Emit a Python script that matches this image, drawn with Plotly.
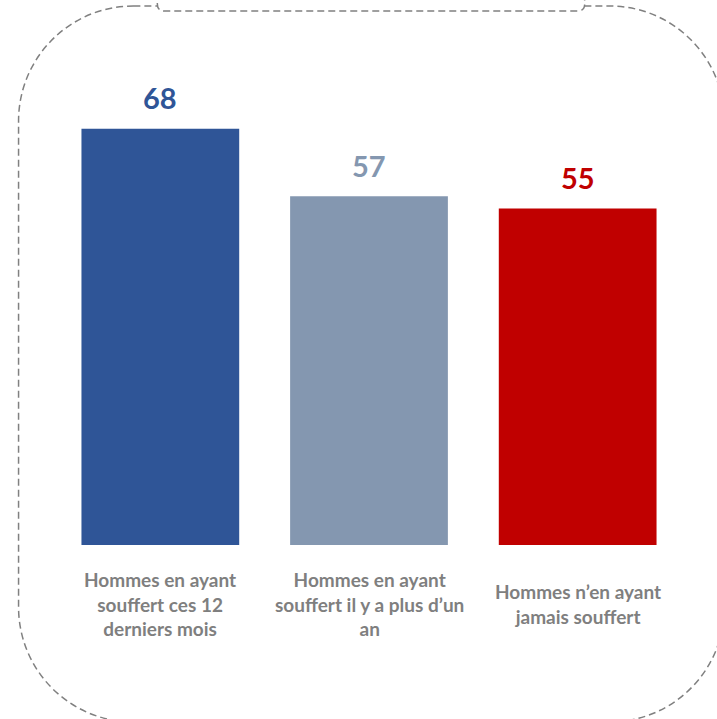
import plotly.graph_objects as go

# ---- data ----
categories = ["12 derniers mois", "plus d'un an", "jamais"]
category_labels = [
    "Hommes en ayant<br>souffert ces 12<br>derniers mois",
    "Hommes en ayant<br>souffert il y a plus d\u2019un<br>an",
    "Hommes n\u2019en ayant<br>jamais souffert",
]
values = [68, 57, 55]
bar_colors = ["#2F5597", "#8497B0", "#C00000"]

# ---- geometry (pixels) ----
W, H = 717, 719
L, R, T, B = 55.5, 34.5, 86, 174
PW, PH = W - L - R, H - T - B


def P(px, py):
    return f"{(px - L) / PW:.5f},{(H - B - py) / PH:.5f}"


def rounded_rect(x0, y0, x1, y1, r):
    k = 0.5523 * r
    return (
        f"M {P(x0 + r, y0)} L {P(x1 - r, y0)} "
        f"C {P(x1 - r + k, y0)} {P(x1, y0 + r - k)} {P(x1, y0 + r)} "
        f"L {P(x1, y1 - r)} "
        f"C {P(x1, y1 - r + k)} {P(x1 - r + k, y1)} {P(x1 - r, y1)} "
        f"L {P(x0 + r, y1)} "
        f"C {P(x0 + r - k, y1)} {P(x0, y1 - r + k)} {P(x0, y1 - r)} "
        f"L {P(x0, y0 + r)} "
        f"C {P(x0, y0 + r - k)} {P(x0 + r - k, y0)} {P(x0 + r, y0)} Z"
    )


tab_path = (
    f"M {P(157, -30)} L {P(157, 4)} Q {P(157, 11)} {P(164, 11)} "
    f"L {P(578, 11)} Q {P(585, 11)} {P(585, 4)} L {P(585, -30)} Z"
)

fig = go.Figure(
    go.Bar(
        x=categories,
        y=values,
        marker=dict(color=bar_colors, line=dict(width=0)),
        hoverinfo="skip",
    )
)

annotations = []
for c, v, col in zip(categories, values, bar_colors):
    annotations.append(dict(
        x=c, y=v, xref="x", yref="y", text=f"<b>{v}</b>", showarrow=False,
        yanchor="middle", yshift=31,
        font=dict(family="Lato", size=29, color=col),
    ))
for c, lab in zip(categories, category_labels):
    annotations.append(dict(
        x=c, y=(545 - 604) / PH, xref="x", yref="paper", text=f"<b>{lab}</b>",
        showarrow=False, yanchor="middle", align="center",
        font=dict(family="Lato", size=19, color="#7F7F7F"),
    ))

dash_line = dict(color="#808080", width=1.5, dash="7px,4px")
shapes = [
    dict(type="path", xref="paper", yref="paper", path=rounded_rect(18, 6, 725, 722, 115),
         line=dash_line, fillcolor="rgba(0,0,0,0)", layer="below"),
    dict(type="path", xref="paper", yref="paper", path=tab_path,
         line=dash_line, fillcolor="white", layer="below"),
]

fig.update_layout(
    width=W, height=H,
    margin=dict(l=L, r=R, t=T, b=B, pad=0),
    paper_bgcolor="white", plot_bgcolor="white",
    bargap=0.244,
    showlegend=False,
    xaxis=dict(visible=False, range=[-0.5, 2.5]),
    yaxis=dict(visible=False, range=[0, 75]),
    annotations=annotations,
    shapes=shapes,
)

fig.write_html(
    "out.html",
    config={"displayModeBar": False},
    post_script="document.body.style.margin='0';document.body.style.overflow='hidden';",
)
